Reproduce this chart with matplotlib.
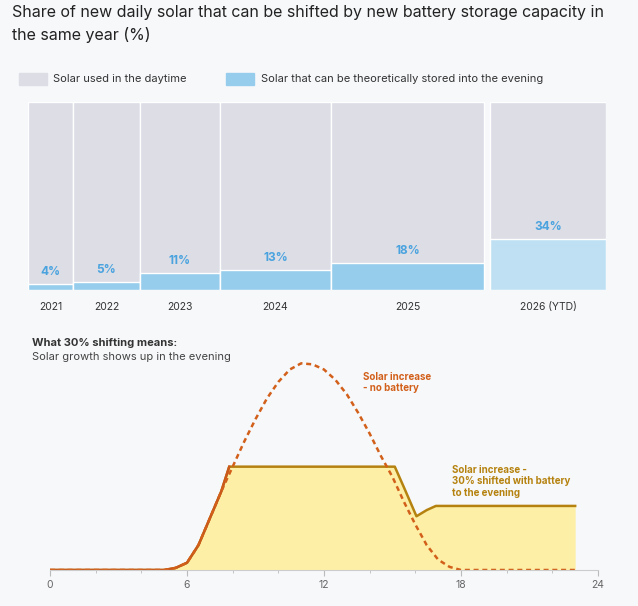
import numpy as np
import matplotlib
matplotlib.use('Agg')
import matplotlib.pyplot as plt
from matplotlib.patches import Rectangle

plt.rcParams['font.family'] = ['Inter', 'DejaVu Sans']

# top chart data
years = ["2021", "2022", "2023", "2024", "2025", "2026 (YTD)"]
widths = [45, 67, 80, 111, 153, 116]
stored = [4, 5, 11, 13, 18, 34]
labels = ["4%", "5%", "11%", "13%", "18%", "34%"]

# bottom chart data (hour, value)
hours_nb = [0, 5, 5.5, 6, 6.5, 7, 7.5, 8, 8.5, 9, 9.5, 10, 10.5, 11, 11.5, 12, 12.5,
            13, 13.5, 14, 14.5, 15, 15.5, 16, 16.5, 17, 17.5, 18, 23]
vals_nb = [0, 0, 1, 3.5, 12, 25, 38, 50, 62, 73, 83, 91, 97, 100, 99.5, 97, 92,
           85, 76, 66, 55, 45, 33, 22, 12, 5, 1.5, 0, 0]
hours_bat = [0, 5, 5.5, 6, 6.5, 7, 7.5, 7.85, 15.1, 15.5, 16.05, 16.5, 16.9, 23]
vals_bat = [0, 0, 1, 3.5, 12, 25, 38, 50, 50, 40, 26, 29, 31, 31]

bg = '#f7f8fa'
fig = plt.figure(figsize=(6.38, 6.06), dpi=100, facecolor=bg)

fig.text(12/638, 1-24/606, "Share of new daily solar that can be shifted by new battery storage capacity in\nthe same year (%)",
         fontsize=11.5, color='#222222', va='center', linespacing=1.5)

# legend
fig.patches.append(Rectangle((19/638, 1-85/606), 28/638, 12/606, transform=fig.transFigure, color='#dcdde5'))
fig.text(53/638, 1-79/606, "Solar used in the daytime", fontsize=8, color='#333333', va='center')
fig.patches.append(Rectangle((226/638, 1-85/606), 28/638, 12/606, transform=fig.transFigure, color='#97cdec'))
fig.text(261/638, 1-79/606, "Solar that can be theoretically stored into the evening", fontsize=8, color='#333333', va='center')

ax = fig.add_axes([28/638, 316/606, 578/638, 188/606])
ax.set_facecolor(bg)
gap = 6
lefts = []
x = 0
for i, w in enumerate(widths):
    if i == len(widths) - 1:
        x += gap
    lefts.append(x)
    x += w
top = 125
for i, (l, w, s) in enumerate(zip(lefts, widths, stored)):
    blue = '#bfe0f3' if i == len(widths) - 1 else '#97cdec'
    ax.bar(l, top, width=w, align='edge', color='#dcdde5', edgecolor='white', linewidth=1)
    ax.bar(l, s, width=w, align='edge', color=blue, edgecolor='white', linewidth=1)
    ax.text(l + w/2, s + 4, labels[i], ha='center', va='bottom', fontsize=8.5,
            fontweight='bold', color='#4aa3df')
    ax.text(l + w/2, -8, years[i], ha='center', va='top', fontsize=7.5, color='#333333')
ax.set_xlim(0, x)
ax.set_ylim(0, top)
ax.axis('off')

fig.text(32/638, 1-343/606, "What 30% shifting means:", fontsize=8, fontweight='bold', color='#333333', va='center')
fig.text(32/638, 1-357/606, "Solar growth shows up in the evening", fontsize=8, color='#444444', va='center')

ax2 = fig.add_axes([50/638, 36/606, 548/638, 217/606])
ax2.set_facecolor(bg)
ax2.fill_between(hours_bat, vals_bat, color='#fdf0a6', linewidth=0)
ax2.plot(hours_bat, vals_bat, color='#b5820f', linewidth=1.8)
ax2.plot(hours_bat[:8], vals_bat[:8], color='#c9581a', linewidth=1.8)
ax2.plot(hours_nb, vals_nb, color='#d2601a', linewidth=1.8, linestyle=(0, (2, 1.5)))
ax2.text(13.7, 96, "Solar increase\n- no battery", fontsize=7, fontweight='bold', color='#d2601a', va='top')
ax2.text(17.6, 51, "Solar increase -\n30% shifted with battery\nto the evening", fontsize=7, fontweight='bold',
         color='#b5820f', va='top')
ax2.set_xlim(0, 24)
ax2.set_ylim(0, 105)
ax2.set_xticks([0, 6, 12, 18, 24])
ax2.set_xticks(np.arange(0, 25, 2), minor=True)
ax2.tick_params(axis='x', colors='#bbbbbb', labelcolor='#666666', labelsize=7.5, length=4)
ax2.tick_params(axis='x', which='minor', length=2, colors='#bbbbbb')
ax2.set_yticks([])
for s in ['top', 'right', 'left']:
    ax2.spines[s].set_visible(False)
ax2.spines['bottom'].set_color('#cccccc')

fig.savefig('out.png', dpi=100, facecolor=bg)
